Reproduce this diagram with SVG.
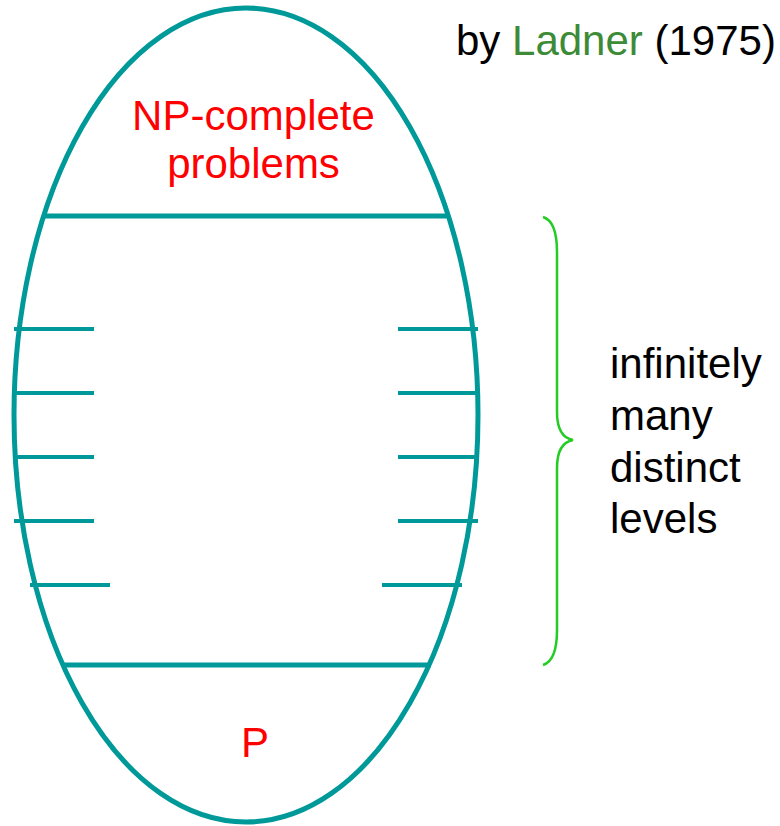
<svg xmlns="http://www.w3.org/2000/svg" width="780" height="826" viewBox="0 0 780 826">
<style>
.t{font-family:"Liberation Sans",Arial,sans-serif;font-size:42px}
.teal{stroke:#009999;fill:none}
.red{fill:#ff0000}
</style>
<rect width="780" height="826" fill="#ffffff"/>
<g id="ellipse">
<ellipse class="teal" cx="246" cy="415" rx="232" ry="407" stroke-width="5"/>
</g>
<g id="levels" class="teal" stroke-width="4">
<line x1="44" y1="216" x2="448" y2="216" stroke-width="5"/>
<line x1="62" y1="665" x2="431" y2="665" stroke-width="5"/>
<line x1="14" y1="329" x2="94" y2="329"/>
<line x1="15" y1="393" x2="94" y2="393"/>
<line x1="17" y1="457" x2="94" y2="457"/>
<line x1="14" y1="521" x2="94" y2="521"/>
<line x1="30" y1="585" x2="110" y2="585"/>
<line x1="398" y1="329" x2="478" y2="329"/>
<line x1="398" y1="393" x2="476" y2="393"/>
<line x1="398" y1="457" x2="475" y2="457"/>
<line x1="398" y1="521" x2="478" y2="521"/>
<line x1="382" y1="585" x2="462" y2="585"/>
</g>
<g id="np-complete">
<text class="t red" x="253.5" y="130" text-anchor="middle">NP-complete</text>
<text class="t red" x="253.5" y="178" text-anchor="middle">problems</text>
</g>
<g id="p">
<text class="t red" x="255" y="757" text-anchor="middle">P</text>
</g>
<g id="brace">
<path d="M543,217 C553,220 557,232 557,252 L557,412 C557,428 562,438 573,440 C562,442 557,452 557,468 L557,630 C557,650 553,662 543,665" fill="none" stroke="#22cc22" stroke-width="2.5"/>
</g>
<g id="levels-label">
<text class="t" x="610" y="378" fill="#000">infinitely</text>
<text class="t" x="610" y="430" fill="#000">many</text>
<text class="t" x="610" y="482" fill="#000">distinct</text>
<text class="t" x="610" y="533" fill="#000">levels</text>
</g>
<g id="credit">
<text class="t" x="456" y="55" fill="#000">by <tspan fill="#3d8b37">Ladner</tspan> (1975)</text>
</g>
</svg>
